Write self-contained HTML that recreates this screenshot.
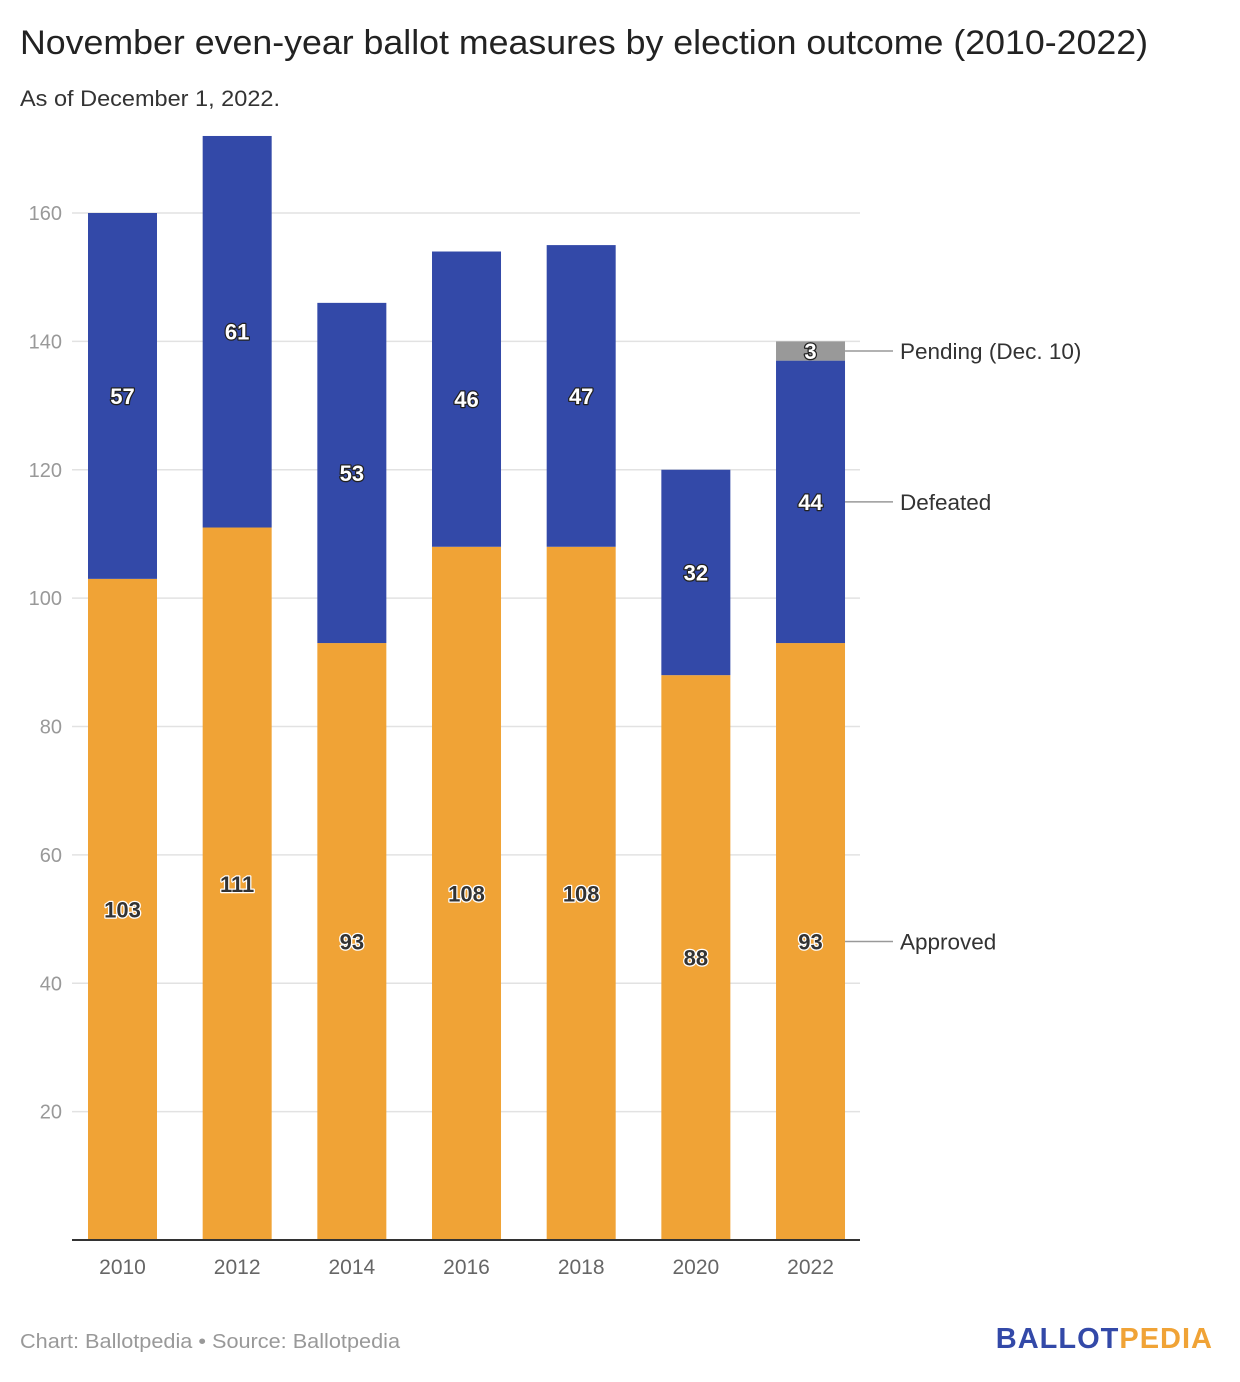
<!DOCTYPE html>
<html><head><meta charset="utf-8">
<style>
body{margin:0;background:#fff;font-family:"Liberation Sans",sans-serif;}
#wrap{position:relative;width:1240px;height:1382px;overflow:hidden;}
</style></head>
<body>
<div id="wrap">
<svg id="chart" width="1240" height="1382" xmlns="http://www.w3.org/2000/svg">
<text x="20" y="54" font-size="34" fill="#222" textLength="1128" lengthAdjust="spacingAndGlyphs">November even-year ballot measures by election outcome (2010-2022)</text>
<text x="20" y="106" font-size="22" fill="#333" textLength="260" lengthAdjust="spacingAndGlyphs">As of December 1, 2022.</text>
<g id="grid"></g>
<g id="bars"></g>
<g id="labels"></g>
<g id="legend"></g>
<line x1="72" y1="1240" x2="860" y2="1240" stroke="#333" stroke-width="2"/>
<text x="20" y="1348" font-size="20" fill="#999" textLength="380" lengthAdjust="spacingAndGlyphs">Chart: Ballotpedia • Source: Ballotpedia</text>
<text x="1213" y="1348" font-size="29" font-weight="bold" text-anchor="end" letter-spacing="1"><tspan fill="#3349a8">BALLOT</tspan><tspan fill="#f0a336">PEDIA</tspan></text>
</svg>
</div>
<script>
const years = ["2010","2012","2014","2016","2018","2020","2022"];
const approved = [103,111,93,108,108,88,93];
const defeated = [57,61,53,46,47,32,44];
const pending = [0,0,0,0,0,0,3];
const yTicks = [20,40,60,80,100,120,140,160];
const legendNames = ["Pending (Dec. 10)","Defeated","Approved"];

const NS="http://www.w3.org/2000/svg";
const y0=1240, pxPer=(1240-213)/160;
const yS=v=>y0-v*pxPer;
const x0=122.5, step=114.67, bw=69;
const xS=i=>x0+i*step;
function mk(tag,attrs,parent){const e=document.createElementNS(NS,tag);for(const k in attrs)e.setAttribute(k,attrs[k]);document.getElementById(parent).appendChild(e);return e;}

yTicks.forEach(t=>{
  const l=mk('line',{x1:72,x2:860,y1:yS(t),y2:yS(t),stroke:'#e2e2e2','stroke-width':1.5},'grid');
  
  
  const tx=mk('text',{x:62,y:yS(t)+7,'font-size':20,fill:'#999','text-anchor':'end'},'grid');
  tx.textContent=t;
  
  
});

const series=[{vals:approved,color:'#f0a336',txt:'#333',stroke:'#fff',name:'approved'},
{vals:defeated,color:'#3349a8',txt:'#fff',stroke:'#222',name:'defeated'},
{vals:pending,color:'#999',txt:'#fff',stroke:'#222',name:'pending'}];
years.forEach((yr,i)=>{
  let base=0;
  series.forEach(s=>{
    const v=s.vals[i];
    if(v>0){
      const r=mk('rect',{x:xS(i)-bw/2,y:yS(base+v),width:bw,height:yS(base)-yS(base+v),fill:s.color},'bars');
      
      
      const t=mk('text',{x:xS(i),y:yS(base+v/2)+8,'font-size':22,'font-weight':'bold',fill:s.txt,stroke:s.stroke,'stroke-width':2.5,'paint-order':'stroke','stroke-linejoin':'round','text-anchor':'middle'},'labels');
      t.textContent=v;
      
      
    }
    base+=v;
  });
  const xl=mk('text',{x:xS(i),y:1274,'font-size':21,fill:'#666','text-anchor':'middle'},'labels');
  xl.textContent=yr;
  
  
});

const li=years.length-1;
const legY=[yS(approved[li]+defeated[li]+pending[li]/2),yS(approved[li]+defeated[li]/2),yS(approved[li]/2)];
legendNames.forEach((n,k)=>{
  const l=mk('line',{x1:xS(li)+bw/2,x2:893,y1:legY[k],y2:legY[k],stroke:'#999','stroke-width':1.5},'legend');
  
  
  const t=mk('text',{x:900,y:legY[k]+8,'font-size':22.5,fill:'#333'},'legend');
  t.textContent=n;
  
  
});
</script>
</body></html>
